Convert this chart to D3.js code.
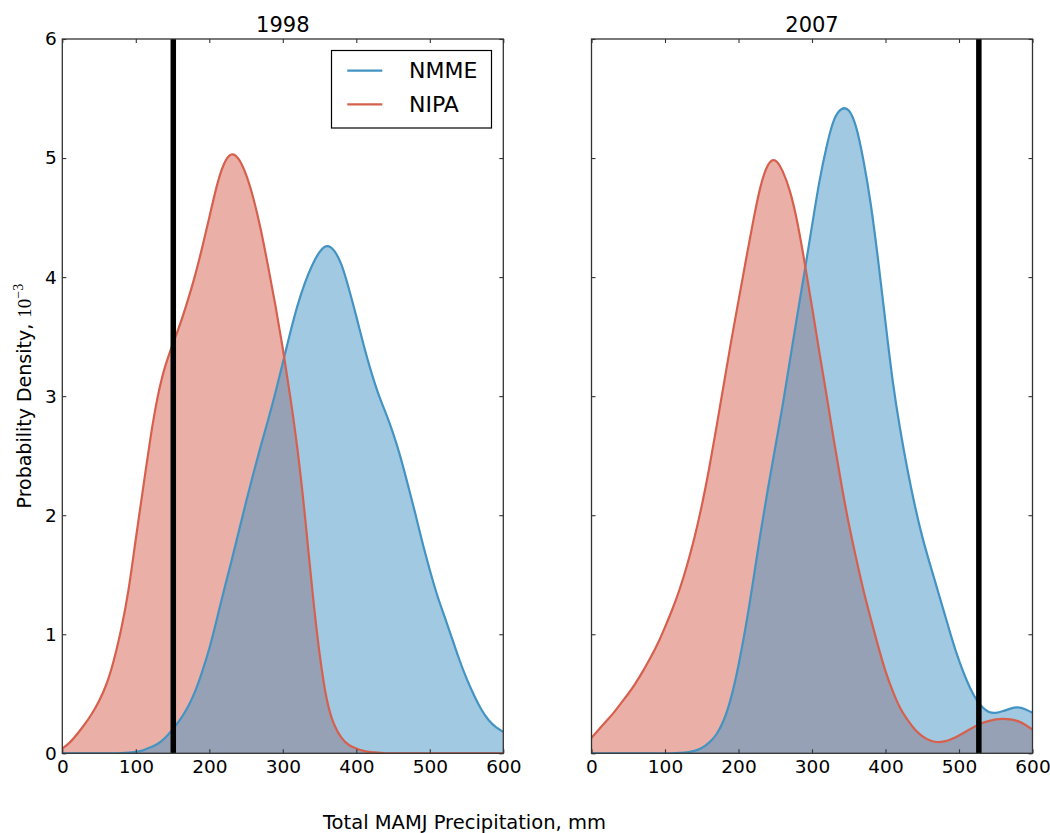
<!DOCTYPE html>
<html>
<head>
<meta charset="utf-8">
<script src="https://cdn.jsdelivr.net/npm/d3@7"></script>
<style>
  body { margin: 0; background: #fff; }
  text { font-family: "DejaVu Sans", sans-serif; fill: #000; }
</style>
</head>
<body>
<svg id="chart" width="1050" height="833"></svg>
<script>
// precipitation grid (mm) the densities were read at
const precip = [0, 10, 20, 30, 40, 50, 60, 70, 80, 90, 100, 110, 120, 130, 140, 150, 160, 170, 180, 190,
  200, 210, 220, 230, 240, 250, 260, 270, 280, 290, 300, 310, 320, 330, 340, 350, 360, 370, 380, 390,
  400, 410, 420, 430, 440, 450, 460, 470, 480, 490, 500, 510, 520, 530, 540, 550, 560, 570, 580, 590, 600];

// probability density, units of 10^-3
const nipa1998 = [0.04, 0.09, 0.16, 0.24, 0.33, 0.44, 0.58, 0.78, 1.04, 1.37, 1.80, 2.23, 2.65, 3.00, 3.25, 3.43, 3.60, 3.79, 4.00, 4.24,
  4.50, 4.76, 4.95, 5.03, 4.99, 4.86, 4.66, 4.40, 4.09, 3.76, 3.40, 3.00, 2.55, 2.00, 1.38, 0.84, 0.45, 0.24, 0.13, 0.07,
  0.04, 0.02, 0.01, 0.005, 0, 0, 0, 0, 0, 0, 0, 0, 0, 0, 0, 0, 0, 0, 0, 0, 0];
const nmme1998 = [0, 0, 0, 0, 0, 0, 0, 0, 0.002, 0.006, 0.013, 0.025, 0.05, 0.08, 0.13, 0.20, 0.28, 0.38, 0.51, 0.68,
  0.88, 1.12, 1.37, 1.61, 1.86, 2.11, 2.35, 2.58, 2.80, 3.03, 3.28, 3.53, 3.76, 3.95, 4.10, 4.21, 4.26, 4.22, 4.10, 3.90,
  3.67, 3.43, 3.21, 3.02, 2.86, 2.69, 2.49, 2.26, 2.02, 1.77, 1.54, 1.33, 1.15, 0.97, 0.79, 0.63, 0.49, 0.37, 0.28, 0.22, 0.18];
const nipa2007 = [0.13, 0.20, 0.27, 0.34, 0.42, 0.50, 0.59, 0.69, 0.80, 0.92, 1.06, 1.21, 1.38, 1.58, 1.81, 2.08, 2.39, 2.74, 3.10, 3.46,
  3.80, 4.14, 4.47, 4.76, 4.94, 4.98, 4.89, 4.72, 4.46, 4.12, 3.75, 3.37, 3.00, 2.62, 2.26, 1.93, 1.64, 1.37, 1.13, 0.90,
  0.69, 0.52, 0.38, 0.28, 0.20, 0.145, 0.11, 0.095, 0.10, 0.12, 0.15, 0.185, 0.22, 0.25, 0.27, 0.285, 0.29, 0.285, 0.27, 0.24, 0.20];
const nmme2007 = [0, 0, 0, 0, 0, 0, 0, 0, 0, 0, 0, 0, 0.003, 0.008, 0.02, 0.045, 0.09, 0.16, 0.28, 0.47,
  0.74, 1.07, 1.45, 1.85, 2.22, 2.57, 2.92, 3.30, 3.68, 4.05, 4.43, 4.80, 5.10, 5.32, 5.41, 5.40, 5.26, 4.98, 4.61, 4.14,
  3.62, 3.12, 2.72, 2.38, 2.08, 1.82, 1.60, 1.39, 1.18, 0.97, 0.78, 0.62, 0.49, 0.40, 0.35, 0.34, 0.355, 0.375, 0.385, 0.37, 0.34];

const years = ['1998', '2007'];
const observed = [151, 527];
const xTicks = [0, 100, 200, 300, 400, 500, 600];
const yTicks = [0, 1, 2, 3, 4, 5, 6];
const seriesNames = ['NMME', 'NIPA'];

const colors = { NMME: '#4393c3', NIPA: '#d6604d' };

const svg = d3.select('#chart');
const plotW = 441;
const plotH = 714.3;
const plotTop = 39;
const lefts = [62.3, 591.5];

const x = d3.scaleLinear().domain([0, 600]).range([0, plotW]);
const y = d3.scaleLinear().domain([0, 6]).range([plotH, 0]);

const area = d3.area()
  .x((d) => x(d[0]))
  .y0(y(0))
  .y1((d) => y(d[1]))
  .curve(d3.curveNatural);
const line = d3.line()
  .x((d) => x(d[0]))
  .y((d) => y(d[1]))
  .curve(d3.curveNatural);

const panels = [
  { nmme: nmme1998, nipa: nipa1998 },
  { nmme: nmme2007, nipa: nipa2007 },
];

panels.forEach((p, i) => {
  const g = svg.append('g').attr('transform', `translate(${lefts[i]},${plotTop})`);

  g.append('clipPath').attr('id', `clip${i}`)
    .append('rect').attr('width', plotW).attr('height', plotH);

  const plot = g.append('g').attr('clip-path', `url(#clip${i})`);
  const nipaPts = precip.map((v, k) => [v, p.nipa[k]]);
  const nmmePts = precip.map((v, k) => [v, p.nmme[k]]);

  // fills first, NIPA under NMME
  plot.append('path').attr('d', area(nipaPts))
    .attr('fill', colors.NIPA).attr('fill-opacity', 0.5);
  plot.append('path').attr('d', area(nmmePts))
    .attr('fill', colors.NMME).attr('fill-opacity', 0.5);
  plot.append('path').attr('d', line(nmmePts))
    .attr('fill', 'none').attr('stroke', colors.NMME).attr('stroke-width', 2.2);
  plot.append('path').attr('d', line(nipaPts))
    .attr('fill', 'none').attr('stroke', colors.NIPA).attr('stroke-width', 2.2);

  // observed total
  plot.append('line')
    .attr('x1', x(observed[i])).attr('x2', x(observed[i]))
    .attr('y1', 0).attr('y2', plotH)
    .attr('stroke', '#000').attr('stroke-width', 5.5);

  // axes, ticks pointing inward on all sides
  const bottom = g.append('g').attr('transform', `translate(0,${plotH})`)
    .call(d3.axisBottom(x).tickValues(xTicks).tickSizeInner(-4).tickSizeOuter(0).tickPadding(7));
  g.append('g')
    .call(d3.axisTop(x).tickValues(xTicks).tickSizeInner(-4).tickSizeOuter(0).tickFormat(''));
  const leftAx = g.append('g')
    .call(d3.axisLeft(y).tickValues(yTicks).tickSizeInner(-4).tickSizeOuter(0).tickPadding(5.5)
      .tickFormat(i === 0 ? d3.format('d') : ''));
  g.append('g').attr('transform', `translate(${plotW},0)`)
    .call(d3.axisRight(y).tickValues(yTicks).tickSizeInner(-4).tickSizeOuter(0).tickFormat(''));

  g.selectAll('.domain').remove();
  g.selectAll('.tick line').attr('stroke', '#333').attr('stroke-width', 1.1);
  bottom.selectAll('text').style('font-size', '18.5px');
  leftAx.selectAll('text').style('font-size', '18.5px');

  g.append('rect').attr('width', plotW).attr('height', plotH)
    .attr('fill', 'none').attr('stroke', '#333').attr('stroke-width', 1.3);

  g.append('text')
    .attr('x', plotW / 2).attr('y', 32.3 - plotTop)
    .attr('text-anchor', 'middle')
    .style('font-size', '21px')
    .text(years[i]);
});

// legend in the first panel
const legend = svg.append('g');
legend.append('rect')
  .attr('x', 331.5).attr('y', 50.5).attr('width', 160).attr('height', 77.5)
  .attr('fill', '#fff').attr('stroke', '#000').attr('stroke-width', 1.2);
seriesNames.forEach((name, k) => {
  const ly = 70.7 + k * 33.6;
  legend.append('line')
    .attr('x1', 347.3).attr('x2', 382.3).attr('y1', ly).attr('y2', ly)
    .attr('stroke', colors[name]).attr('stroke-width', 2.2);
  legend.append('text')
    .attr('x', 409).attr('y', ly + 7.5)
    .style('font-size', '22px')
    .text(name);
});

// axis labels
svg.append('text')
  .attr('x', 464.5).attr('y', 829)
  .attr('text-anchor', 'middle')
  .style('font-size', '19.5px')
  .text('Total MAMJ Precipitation, mm');

const yl = svg.append('text')
  .attr('transform', `translate(30.5,${plotTop + plotH / 2}) rotate(-90)`)
  .attr('text-anchor', 'middle')
  .style('font-size', '19px');
yl.append('tspan').text('Probability Density, ');
yl.append('tspan').style('font-family', '"Liberation Serif", serif').style('font-size', '19px').text('10');
yl.append('tspan').style('font-family', '"Liberation Serif", serif')
  .style('font-size', '14px').attr('dy', -8).text('\u22123');
</script>
</body>
</html>
